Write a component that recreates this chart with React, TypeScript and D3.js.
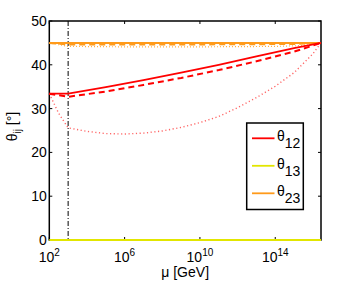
import React from "react"
import * as d3 from "d3"

const logMuSolid12 = [2, 3, 5, 7, 9, 11, 13, 15, 16.43]
const theta12Solid = [33.4, 33.4, 34.9, 36.5, 38.2, 40.0, 41.9, 43.8, 45]
const logMuDashed12 = [2, 3, 5, 7, 9, 11, 13, 15, 16.43]
const theta12Dashed = [33.4, 32.7, 33.9, 35.4, 37.0, 38.8, 40.8, 43.0, 45]
const logMuDotted12 = [2, 2.5, 3, 4, 5, 6, 7, 8, 9, 10, 11, 12, 13, 14, 15, 16, 16.43]
const theta12Dotted = [33.4, 28.9, 25.6, 24.8, 24.3, 24.2, 24.4, 24.9, 25.7, 26.8, 28.2, 30.2, 32.5, 35.1, 38.2, 42.5, 45]

const logMu13 = [2, 16.43]
const theta13 = [0, 0]

const logMu23 = [2, 16.43]
const theta23Solid = [45, 45]
const logMuDashed23 = [2, 3, 10, 15, 16.43]
const theta23Dashed = [45, 44.65, 44.65, 44.75, 45]
const logMuDotted23 = [2, 3, 6, 10, 14, 15.5, 16.43]
const theta23Dotted = [45, 44.2, 44.1, 44.1, 44.2, 44.4, 45]

const xTickExp = [2, 6, 10, 14]
const yTicks = [0, 10, 20, 30, 40, 50]
const muThreshold = 1e3
const legendNames = ["12", "13", "23"]

const RED = "#ff0000"
const YELLOW = "#e2e600"
const ORANGE = "#ff9a1a"

export default function App() {
  const width = 354, height = 282
  const left = 49.3, right = 321, top = 21, bottom = 240

  const x = d3.scaleLog().domain([1e2, Math.pow(10, 16.43)]).range([left, right])
  const y = d3.scaleLinear().domain([0, 50]).range([bottom, top])

  const line = d3.line<[number, number]>()
    .x(d => x(Math.pow(10, d[0])))
    .y(d => y(d[1]))

  const pts = (xs: number[], ys: number[]) => xs.map((v, i) => [v, ys[i]] as [number, number])

  const series = [
    { d: pts(logMuDotted23, theta23Dotted), color: ORANGE, w: 1.2, dash: "1,2", op: 0.8 },
    { d: pts(logMuDashed23, theta23Dashed), color: ORANGE, w: 2, dash: "6,4", op: 1 },
    { d: pts(logMu23, theta23Solid), color: ORANGE, w: 2, dash: null, op: 1 },
    { d: pts(logMuDotted12, theta12Dotted), color: RED, w: 1.4, dash: "1.2,2.5", op: 0.6 },
    { d: pts(logMuDashed12, theta12Dashed), color: RED, w: 2, dash: "6,4", op: 1 },
    { d: pts(logMuSolid12, theta12Solid), color: RED, w: 1.8, dash: null, op: 1 },
  ]

  const font = "'Liberation Sans', Arial, Helvetica, sans-serif"
  const legendColors = [RED, YELLOW, ORANGE]

  return (
    <svg width={width} height={height} style={{ position: "absolute", left: 0, top: 0, background: "#fff" }}
      fontFamily={font}>
      {/* axis box */}
      <rect x={left} y={top} width={right - left} height={bottom - top} fill="none" stroke="#000" strokeWidth={1.5} />

      {/* ticks inward */}
      {yTicks.map(t => (
        <g key={"y" + t}>
          <line x1={left} x2={left + 3} y1={y(t)} y2={y(t)} stroke="#000" />
          <line x1={right} x2={right - 3} y1={y(t)} y2={y(t)} stroke="#000" />
          <text x={left - 2.5} y={y(t)} dy="0.36em" textAnchor="end" fontSize={14}>{t}</text>
        </g>
      ))}
      {xTickExp.map(e => (
        <g key={"x" + e}>
          <line x1={x(Math.pow(10, e))} x2={x(Math.pow(10, e))} y1={bottom} y2={bottom - 3} stroke="#000" />
          <line x1={x(Math.pow(10, e))} x2={x(Math.pow(10, e))} y1={top} y2={top + 3} stroke="#000" />
          <text x={x(Math.pow(10, e))} y={261.5} textAnchor="middle" fontSize={14}>
            10<tspan fontSize={10} dy={-6}>{e}</tspan>
          </text>
        </g>
      ))}

      {/* threshold line */}
      <line x1={x(muThreshold)} x2={x(muThreshold)} y1={top} y2={bottom} stroke="#000" strokeWidth={1} strokeDasharray="5,2,1,2" />

      {series.map((s, i) => (
        <path key={i} d={line(s.d) || ""} fill="none" stroke={s.color} strokeWidth={s.w}
          strokeDasharray={s.dash || undefined} opacity={s.op} />
      ))}
      <path d={line(pts(logMu13, theta13)) || ""} fill="none" stroke={YELLOW} strokeWidth={2} />

      {/* axis labels */}
      <text x={(left + right) / 2} y={277} textAnchor="middle" fontSize={14}>μ [GeV]</text>
      <text transform={`translate(17,${(top + bottom) / 2 - 4}) rotate(-90)`} textAnchor="middle" fontSize={14}>
        θ<tspan fontSize={10} dy={4}>ij</tspan><tspan dy={-4}> [°]</tspan>
      </text>

      {/* legend */}
      <rect x={246.7} y={123} width={56.6} height={86.5} fill="#fff" stroke="#000" strokeWidth={1.5} />
      {legendNames.map((n, i) => {
        const ly = 138.3 + i * 27.5
        return (
          <g key={n}>
            <line x1={252} x2={274.5} y1={ly} y2={ly} stroke={legendColors[i]} strokeWidth={1.8} />
            <text x={277} y={ly + 3} fontSize={14}>
              θ<tspan fontSize={14} dy={7}>{n}</tspan>
            </text>
          </g>
        )
      })}
    </svg>
  )
}
